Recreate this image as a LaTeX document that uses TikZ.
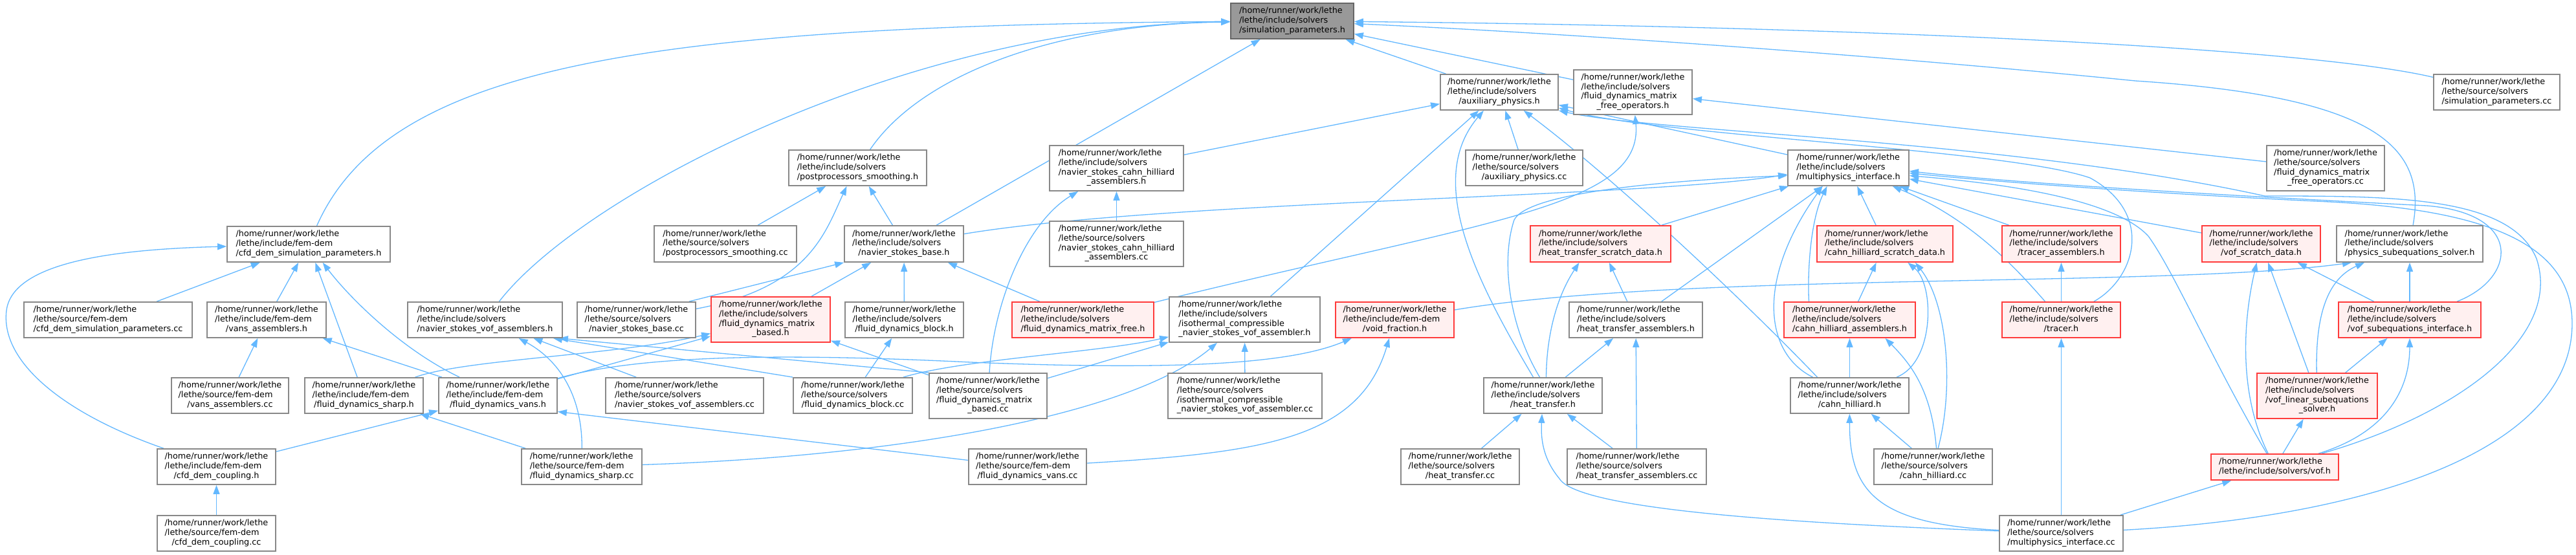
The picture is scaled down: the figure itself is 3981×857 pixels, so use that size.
\documentclass[tikz,border=0pt]{standalone}
\usepackage{fontspec}
\setmainfont{DejaVu Sans}
\usetikzlibrary{arrows.meta,backgrounds}
\definecolor{edgecol}{HTML}{63B8FF}
\definecolor{nborder}{HTML}{888888}
\definecolor{rborder}{HTML}{FF3B3B}
\definecolor{rfill}{HTML}{FFF0F0}
\definecolor{gfill}{HTML}{999999}
\definecolor{gborder}{HTML}{666666}
\newcommand\HP{/home/runner/work/lethe}
\newcommand\LIS{/lethe/include/solvers}
\newcommand\LSS{/lethe/source/solvers}
\newcommand\LIF{/lethe/include/fem-dem}
\newcommand\LSF{/lethe/source/fem-dem}
\newcommand\labl[2]{\begin{tabular}{@{}l@{}}#1\\\multicolumn{1}{@{}c@{}}{#2}\end{tabular}}
\newcommand\nd[7]{\node[#1, minimum width=#5pt, minimum height=#6pt] (#2) at (#3,#4) {#7};}
\tikzset{
  basebox/.style={inner sep=0pt, line width=1.8pt, font=\fontsize{12.8pt}{14.7pt}\selectfont, text=black},
  nbox/.style={basebox, draw=nborder, fill=white},
  rbox/.style={basebox, draw=rborder, fill=rfill},
  gbox/.style={basebox, draw=gborder, fill=gfill},
  dep/.style={draw=edgecol, line width=1.3pt, -{Triangle[length=14pt,width=10pt]}}
}
\begin{document}
\begin{tikzpicture}[x=1pt,y=-1pt]
\useasboundingbox (0,0) rectangle (3981,857);
% ---- nodes ----
\nd{gbox}{SP}{1997}{32.5}{190}{55}{\labl{\HP\\\LIS}{/simulation\_parameters.h}}
\nd{nbox}{AUX}{2317}{142.5}{182}{55}{\labl{\HP\\\LIS}{/auxiliary\_physics.h}}
\nd{nbox}{FDMFO}{2523.5}{142.5}{183}{69}{\labl{\HP\\\LIS\\/fluid\_dynamics\_matrix}{\_free\_operators.h}}
\nd{nbox}{SPcc}{3858.5}{142.5}{195}{55}{\labl{\HP\\\LSS}{/simulation\_parameters.cc}}
\nd{nbox}{CDSP}{477}{377.5}{252}{55}{\labl{\HP\\\LIF}{/cfd\_dem\_simulation\_parameters.h}}
\nd{nbox}{PPS}{1325.5}{259.5}{213}{55}{\labl{\HP\\\LIS}{/postprocessors\_smoothing.h}}
\nd{nbox}{NSCHA}{1725.5}{260}{207}{70}{\labl{\HP\\\LIS\\/navier\_stokes\_cahn\_hilliard}{\_assemblers.h}}
\nd{nbox}{AUXcc}{2355.5}{259.5}{181}{55}{\labl{\HP\\\LSS}{/auxiliary\_physics.cc}}
\nd{nbox}{MPI}{2856.5}{259.5}{187}{55}{\labl{\HP\\\LIS}{/multiphysics\_interface.h}}
\nd{nbox}{FDMFOcc}{3594}{260}{182}{70}{\labl{\HP\\\LSS\\/fluid\_dynamics\_matrix}{\_free\_operators.cc}}
\nd{nbox}{PPScc}{1121}{377}{220}{56}{\labl{\HP\\\LSS}{/postprocessors\_smoothing.cc}}
\nd{nbox}{NSB}{1397}{377}{184}{56}{\labl{\HP\\\LIS}{/navier\_stokes\_base.h}}
\nd{nbox}{NSCHAcc}{1725.5}{377}{207}{70}{\labl{\HP\\\LSS\\/navier\_stokes\_cahn\_hilliard}{\_assemblers.cc}}
\nd{rbox}{HTSD}{2473.5}{377}{217}{56}{\labl{\HP\\\LIS}{/heat\_transfer\_scratch\_data.h}}
\nd{rbox}{CHSD}{2913}{377}{210}{56}{\labl{\HP\\\LIS}{/cahn\_hilliard\_scratch\_data.h}}
\nd{rbox}{TA}{3185.5}{377}{183}{56}{\labl{\HP\\\LIS}{/tracer\_assemblers.h}}
\nd{rbox}{VSD}{3494.5}{377}{183}{56}{\labl{\HP\\\LIS}{/vof\_scratch\_data.h}}
\nd{nbox}{PSS}{3724}{377}{226}{56}{\labl{\HP\\\LIS}{/physics\_subequations\_solver.h}}
\nd{nbox}{CDSPcc}{167}{494.5}{260}{55}{\labl{\HP\\\LSF}{/cfd\_dem\_simulation\_parameters.cc}}
\nd{nbox}{VA}{412}{494.5}{184}{55}{\labl{\HP\\\LIF}{/vans\_assemblers.h}}
\nd{nbox}{NSVA}{749.5}{494.5}{239}{55}{\labl{\HP\\\LIS}{/navier\_stokes\_vof\_assemblers.h}}
\nd{nbox}{NSBcc}{983.5}{494.5}{183}{55}{\labl{\HP\\\LSS}{/navier\_stokes\_base.cc}}
\nd{rbox}{FDMB}{1191}{494}{184}{70}{\labl{\HP\\\LIS\\/fluid\_dynamics\_matrix}{\_based.h}}
\nd{nbox}{FDB}{1397.5}{494.5}{183}{55}{\labl{\HP\\\LIS}{/fluid\_dynamics\_block.h}}
\nd{rbox}{FDMF}{1673.5}{494.5}{219}{55}{\labl{\HP\\\LIS}{/fluid\_dynamics\_matrix\_free.h}}
\nd{nbox}{ICA}{1923.5}{494}{233}{70}{\labl{\HP\\\LIS\\/isothermal\_compressible}{\_navier\_stokes\_vof\_assembler.h}}
\nd{rbox}{VF}{2155.5}{494.5}{183}{55}{\labl{\HP\\\LIF}{/void\_fraction.h}}
\nd{nbox}{HTA}{2528}{494.5}{206}{55}{\labl{\HP\\\LIS}{/heat\_transfer\_assemblers.h}}
\nd{rbox}{CHA}{2858.5}{494.5}{203}{55}{\labl{\HP\\\LIS}{/cahn\_hilliard\_assemblers.h}}
\nd{rbox}{TR}{3185.5}{494.5}{183}{55}{\labl{\HP\\\LIS}{/tracer.h}}
\nd{rbox}{VSI}{3724}{494.5}{220}{55}{\labl{\HP\\\LIS}{/vof\_subequations\_interface.h}}
\nd{nbox}{VAcc}{355.5}{611.5}{181}{55}{\labl{\HP\\\LSF}{/vans\_assemblers.cc}}
\nd{nbox}{FDS}{562.5}{611.5}{183}{55}{\labl{\HP\\\LIF}{/fluid\_dynamics\_sharp.h}}
\nd{nbox}{FDV}{769.5}{611.5}{183}{55}{\labl{\HP\\\LIF}{/fluid\_dynamics\_vans.h}}
\nd{nbox}{NSVAcc}{1058}{611.5}{244}{55}{\labl{\HP\\\LSS}{/navier\_stokes\_vof\_assemblers.cc}}
\nd{nbox}{FDBcc}{1318}{611.5}{184}{55}{\labl{\HP\\\LSS}{/fluid\_dynamics\_block.cc}}
\nd{nbox}{FDMBcc}{1527}{612}{182}{70}{\labl{\HP\\\LSS\\/fluid\_dynamics\_matrix}{\_based.cc}}
\nd{nbox}{ICAcc}{1924}{612}{238}{70}{\labl{\HP\\\LSS\\/isothermal\_compressible}{\_navier\_stokes\_vof\_assembler.cc}}
\nd{nbox}{HT}{2384.5}{611.5}{183}{55}{\labl{\HP\\\LIS}{/heat\_transfer.h}}
\nd{nbox}{CH}{2858.5}{611.5}{183}{55}{\labl{\HP\\\LIS}{/cahn\_hilliard.h}}
\nd{rbox}{VLSS}{3581}{612}{186}{70}{\labl{\HP\\\LIS\\/vof\_linear\_subequations}{\_solver.h}}
\nd{nbox}{CDC}{334.5}{721.5}{183}{55}{\labl{\HP\\\LIF}{/cfd\_dem\_coupling.h}}
\nd{nbox}{FDScc}{899}{721.5}{186}{55}{\labl{\HP\\\LSF}{/fluid\_dynamics\_sharp.cc}}
\nd{nbox}{FDVcc}{1588}{721.5}{182}{55}{\labl{\HP\\\LSF}{/fluid\_dynamics\_vans.cc}}
\nd{nbox}{HTcc}{2256.5}{721.5}{183}{55}{\labl{\HP\\\LSS}{/heat\_transfer.cc}}
\nd{nbox}{HTAcc}{2529.5}{721.5}{215}{55}{\labl{\HP\\\LSS}{/heat\_transfer\_assemblers.cc}}
\nd{nbox}{CHcc}{2987.5}{721.5}{183}{55}{\labl{\HP\\\LSS}{/cahn\_hilliard.cc}}
\nd{rbox}{VOF}{3515.5}{722}{197}{40}{\labl{\HP}{/lethe/include/solvers/vof.h}}
\nd{nbox}{CDCcc}{334.5}{824.5}{183}{55}{\labl{\HP\\\LSF}{/cfd\_dem\_coupling.cc}}
\nd{nbox}{MPIcc}{3185.5}{824.5}{191}{55}{\labl{\HP\\\LSS}{/multiphysics\_interface.cc}}
% ---- edges ----
\begin{pgfonlayer}{background}
\fill[white] (0,0) rectangle (3981,857);
% into simulation_parameters.h
\draw[dep] (CDSP) .. controls (600,100) and (1000,40) .. (SP);
\draw[dep] (NSVA) .. controls (900,300) and (1400,40) .. (SP);
\draw[dep] (PPS) .. controls (1420,120) and (1620,38) .. (SP);
\draw[dep] (NSB) -- (SP);
\draw[dep] (AUX) -- (SP);
\draw[dep] (FDMFO) -- (SP);
\draw[dep] (SPcc) .. controls (3550,70) and (2800,40) .. (SP);
\draw[dep] (PSS) .. controls (3750,230) and (3680,150) .. (3300,125) .. controls (2900,85) and (2400,50) .. (SP);
% into auxiliary_physics.h
\draw[dep] (NSCHA) -- (AUX);
\draw[dep] (ICA) -- (AUX);
\draw[dep] ([xshift=-15pt]HT.north) .. controls (2285,440) and (2200,280) .. (AUX);
\draw[dep] (AUXcc) -- (AUX);
\draw[dep] ([xshift=-50pt]CH.north) .. controls (2700,470) and (2500,280) .. (AUX);
\draw[dep] (MPI) -- (AUX);
\draw[dep] (TR) .. controls (3300,430) and (3330,330) .. (3230,275) .. controls (3100,230) and (2560,210) .. ([yshift=4pt]AUX.south east);
\draw[dep] (VOF) .. controls (3800,640) and (3960,520) .. (3920,400) .. controls (3880,303) and (3700,303) .. (3500,303) .. controls (3100,215) and (2560,205) .. (AUX.south east);
% into fluid_dynamics_matrix_free_operators.h
\draw[dep] (FDMF) .. controls (2300,340) and (2540,320) .. (FDMFO);
\draw[dep] (FDMFOcc) -- (FDMFO);
% into cfd_dem_simulation_parameters.h
\draw[dep] (CDSPcc) -- (CDSP);
\draw[dep] (VA) -- (CDSP);
\draw[dep] (FDS) -- (CDSP);
\draw[dep] (FDV) .. controls (620,540) and (540,460) .. (CDSP);
\draw[dep] (CDC) .. controls (100,640) and (0,560) .. (10,480) .. controls (20,400) and (200,385) .. (CDSP);
% vans / fem-dem
\draw[dep] (VAcc) -- (VA);
\draw[dep] (FDV) -- (VA);
\draw[dep] (CDC) -- (FDV);
\draw[dep] ([yshift=10pt]FDVcc.west) -- ([yshift=3.5pt]FDV.south east);
\draw[dep] (FDScc) -- (FDS);
\draw[dep] (CDCcc) -- (CDC);
% into navier_stokes_vof_assemblers.h
\draw[dep] (FDScc) .. controls (900,620) and (870,560) .. (NSVA);
\draw[dep] (NSVAcc) -- (NSVA);
\draw[dep] (FDBcc.north west) -- ([xshift=-15pt]NSVA.south east);
\draw[dep] (FDMBcc.north west) -- ([xshift=-6pt]NSVA.south east);
% into fluid_dynamics_matrix_based.h
\draw[dep] (FDS) .. controls (720,555) and (950,550) .. (FDMB);
\draw[dep] (FDV) -- (FDMB);
\draw[dep] (FDMBcc) -- (FDMB);
% into isothermal assembler
\draw[dep] ([xshift=-15pt]FDBcc.north east) .. controls (1490,555) and (1700,545) .. (ICA);
\draw[dep] (FDMBcc) -- (ICA);
\draw[dep] (FDScc) .. controls (1400,705) and (1750,640) .. (ICA);
\draw[dep] (ICAcc) -- (ICA);
% void fraction
\draw[dep] (FDV) .. controls (1000,545) and (1250,548) .. (1500,560) .. controls (1800,572) and (1990,565) .. (VF);
\draw[dep] (FDVcc) .. controls (1950,700) and (2100,680) .. (VF);
\draw[dep] (VF) .. controls (2600,420) and (3350,445) .. ([xshift=-90pt]PSS.south);
% postprocessors / navier stokes base
\draw[dep] (PPScc) -- (PPS);
\draw[dep] (NSBcc) .. controls (1250,445) and (1275,360) .. ([xshift=-17pt]PPS.south);
\draw[dep] (NSB) -- (PPS);
\draw[dep] ([xshift=-11pt]NSBcc.north east) -- (NSB.south west);
\draw[dep] (FDMB) -- (NSB);
\draw[dep] (FDB) -- (NSB);
\draw[dep] (FDMF) -- (NSB);
\draw[dep] (FDBcc) -- (FDB);
\draw[dep] (FDMBcc) .. controls (1535,470) and (1585,345) .. (NSCHA);
\draw[dep] (NSCHAcc) -- (NSCHA);
% into multiphysics_interface.h
\draw[dep] (NSB) .. controls (1800,310) and (2550,305) .. ([yshift=-10pt]MPI.west);
\draw[dep] ([xshift=-5pt]HT.north) .. controls (2330,500) and (2320,400) .. (2340,340) .. controls (2360,300) and (2550,280) .. ([yshift=-12pt]MPI.west);
\draw[dep] (HTSD) -- (MPI);
\draw[dep] (HTA) -- (MPI);
\draw[dep] (CH) .. controls (2725,545) and (2715,430) .. ([xshift=-40pt]MPI.south);
\draw[dep] ([xshift=-63pt]CHA.north) .. controls (2793,420) and (2798,340) .. ([xshift=-33pt]MPI.south);
\draw[dep] (CHSD) -- (MPI);
\draw[dep] (TA) -- (MPI);
\draw[dep] (TR) .. controls (3120,420) and (3050,340) .. (MPI);
\draw[dep] (VSD) -- (MPI);
\draw[dep] (VSI) .. controls (3890,430) and (3900,330) .. (3750,318) .. controls (3400,300) and (3100,282) .. ([yshift=-5pt]MPI.east);
\draw[dep] (MPIcc) .. controls (3650,800) and (3975,700) .. (3975,500) .. controls (3975,380) and (3850,325) .. (3600,312) .. controls (3300,298) and (3050,278) .. ([yshift=-8pt]MPI.east);
\draw[dep] (VOF) .. controls (3420,560) and (3360,420) .. (3320,365) .. controls (3260,300) and (3050,280) .. ([yshift=-12pt]MPI.east);
% heat transfer
\draw[dep] ([xshift=5pt]HT.north) .. controls (2390,520) and (2405,460) .. ([xshift=-33pt]HTSD.south);
\draw[dep] (HTA) -- (HTSD);
\draw[dep] (HT) -- (HTA);
\draw[dep] (HTAcc) -- (HTA);
\draw[dep] (HTcc) -- (HT);
\draw[dep] (HTAcc) -- (HT);
\draw[dep] (MPIcc) .. controls (2800,810) and (2440,790) .. (2410,740) .. controls (2385,710) and (2381,680) .. (HT);
% cahn hilliard
\draw[dep] (CHcc) -- (CH);
\draw[dep] (MPIcc) .. controls (2900,810) and (2858,760) .. (CH);
\draw[dep] (CH) -- (CHA);
\draw[dep] ([xshift=5pt]CHcc.north) .. controls (2985,600) and (2950,560) .. ([xshift=55pt]CHA.south);
\draw[dep] (CHA) -- (CHSD);
\draw[dep] (CH) .. controls (2990,560) and (2990,440) .. (CHSD);
\draw[dep] (CHcc) .. controls (3020,600) and (3010,470) .. ([xshift=47pt]CHSD.south);
% tracer
\draw[dep] (TR) -- (TA);
\draw[dep] (MPIcc) -- (TR);
% vof
\draw[dep] (VOF) .. controls (3455,600) and (3470,480) .. (VSD);
\draw[dep] (VLSS) -- (VSD);
\draw[dep] (VSI) -- (VSD);
\draw[dep] (VLSS) .. controls (3578,480) and (3600,430) .. ([xshift=-70pt]PSS.south);
\draw[dep] (VSI) -- (PSS);
\draw[dep] (VLSS) -- (VSI);
\draw[dep] (VOF) .. controls (3700,665) and (3724,590) .. (VSI);
\draw[dep] (VOF) -- (VLSS);
\draw[dep] (MPIcc) -- (VOF);
\end{pgfonlayer}
\end{tikzpicture}
\end{document}
